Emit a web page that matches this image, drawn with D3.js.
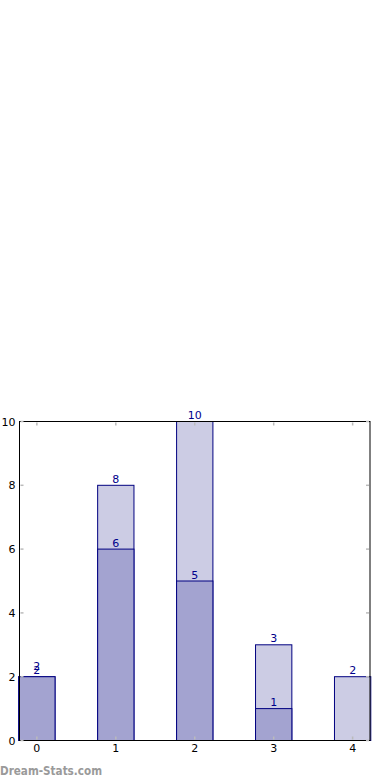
<!DOCTYPE html>
<html><head><meta charset="utf-8">
<script src="https://cdn.jsdelivr.net/npm/d3@7"></script>
<style>body{margin:0;background:#fff}svg{display:block}</style>
</head><body>
<script>
const categories = [0, 1, 2, 3, 4];
const totalValues = [2, 8, 10, 3, 2];
const subsetValues = [2, 6, 5, 1, 0];
const yTicks = [0, 2, 4, 6, 8, 10];

const W = 390, H = 780;
const m = {left: 19.5, right: 370, top: 421.5, bottom: 740.5};
const svg = d3.select("body").append("svg").attr("width", W).attr("height", H);

const x = d3.scaleLinear().domain([-0.22, 4.22]).range([m.left, m.right]);
const y = d3.scaleLinear().domain([0, 10]).range([m.bottom, m.top]);
const half = 0.23;
const font = "DejaVu Sans, sans-serif";

// light (total) bars
svg.append("g").selectAll("rect").data(categories.filter((c,i)=>totalValues[i]>0)).join("rect")
  .attr("x", c => x(c - half)).attr("width", c => x(c + half) - x(c - half))
  .attr("y", c => y(totalValues[c])).attr("height", c => y(0) - y(totalValues[c]))
  .attr("fill", "#ccccE4").attr("stroke", "#000080").attr("stroke-width", 1);
// dark (subset) bars
svg.append("g").selectAll("rect").data(categories.filter((c,i)=>subsetValues[i]>0)).join("rect")
  .attr("x", c => x(c - half)).attr("width", c => x(c + half) - x(c - half))
  .attr("y", c => y(subsetValues[c])).attr("height", c => y(0) - y(subsetValues[c]))
  .attr("fill", "#a3a3d0").attr("stroke", "#000080").attr("stroke-width", 1);

// frame
svg.append("rect").attr("x", m.left).attr("y", m.top)
  .attr("width", m.right - m.left).attr("height", m.bottom - m.top)
  .attr("fill", "none").attr("stroke", "#000").attr("stroke-width", 1);

// ticks (inside, all sides)
const tg = svg.append("g").attr("stroke", "#bbb").attr("stroke-width", 1.5);
categories.forEach(c => {
  tg.append("line").attr("x1", x(c)).attr("x2", x(c)).attr("y1", m.bottom - 1).attr("y2", m.bottom - 4);
  tg.append("line").attr("x1", x(c)).attr("x2", x(c)).attr("y1", m.top + 1).attr("y2", m.top + 4);
});
yTicks.forEach(t => {
  tg.append("line").attr("x1", m.left + 1).attr("x2", m.left + 4).attr("y1", y(t)).attr("y2", y(t));
  tg.append("line").attr("x1", m.right - 1).attr("x2", m.right - 4).attr("y1", y(t)).attr("y2", y(t));
});

// x tick labels
svg.append("g").selectAll("text").data(categories).join("text")
  .attr("x", c => x(c)).attr("y", 752).attr("text-anchor", "middle")
  .attr("font-family", font).attr("font-size", 11).attr("fill", "#000").text(c => c);
// y tick labels
svg.append("g").selectAll("text").data(yTicks).join("text")
  .attr("x", 15.5).attr("y", t => y(t) + 4).attr("text-anchor", "end")
  .attr("font-family", font).attr("font-size", 11).attr("fill", "#000").text(t => t);

// value labels
svg.append("g").selectAll("text").data(categories).join("text")
  .attr("x", c => x(c)).attr("y", c => y(totalValues[c]) - 2.5 - (totalValues[c] === subsetValues[c] ? 4 : 0))
  .attr("text-anchor", "middle").attr("font-family", font).attr("font-size", 11)
  .attr("fill", "#00008b").text(c => totalValues[c]);
svg.append("g").selectAll("text").data(categories.filter((c,i)=>subsetValues[i]>0)).join("text")
  .attr("x", c => x(c)).attr("y", c => y(subsetValues[c]) - 2.5)
  .attr("text-anchor", "middle").attr("font-family", font).attr("font-size", 11)
  .attr("fill", "#00008b").text(c => subsetValues[c]);

// watermark
svg.append("text").attr("x", 0).attr("y", 775).attr("font-family", font)
  .attr("font-size", 12).attr("font-weight", 600).attr("fill", "#9a9a9a")
  .attr("textLength", 102).attr("lengthAdjust", "spacingAndGlyphs").text("Dream-Stats.com");
</script>
</body></html>
